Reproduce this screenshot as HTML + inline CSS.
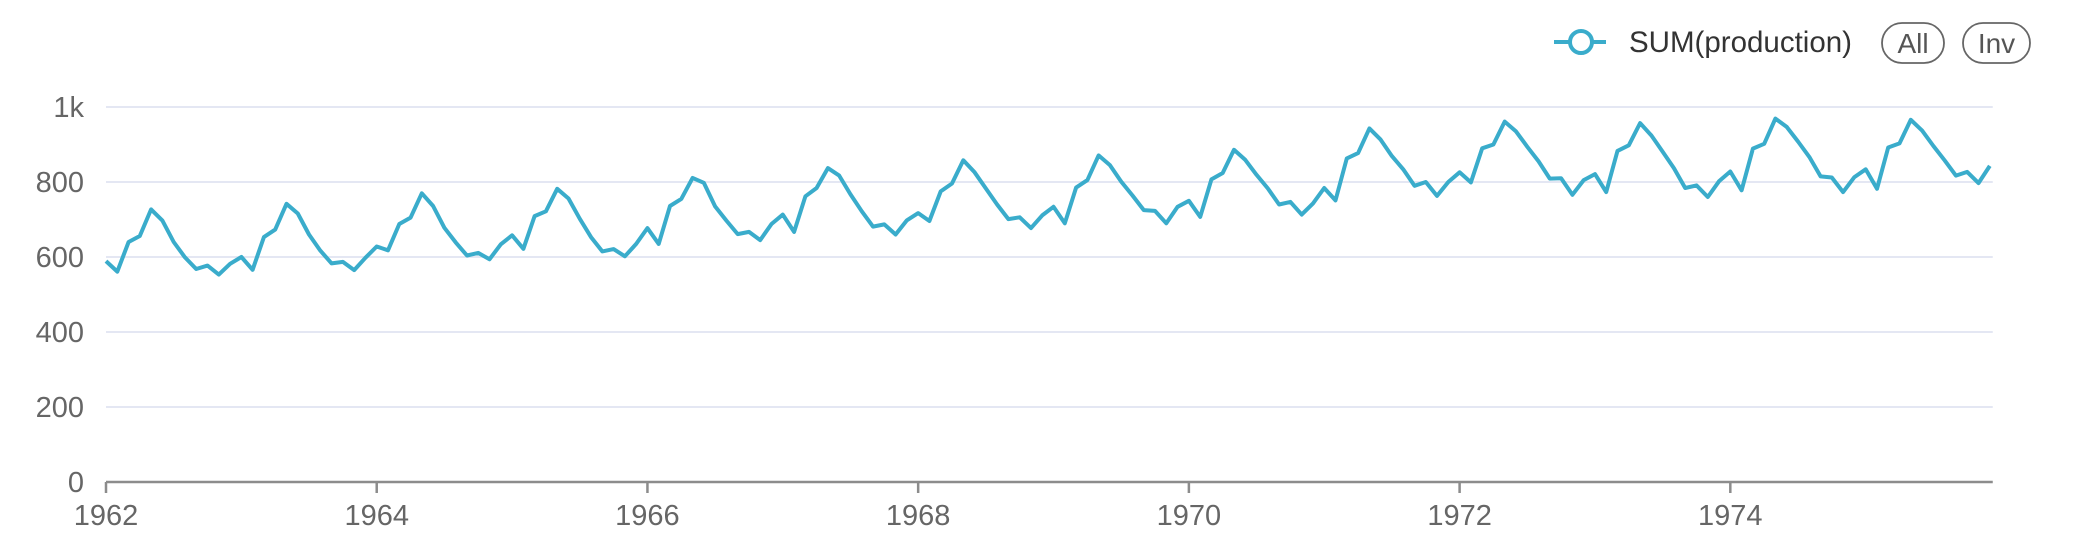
<!DOCTYPE html>
<html><head><meta charset="utf-8"><style>
html,body{margin:0;padding:0;background:#fff;}
svg{display:block;font-family:"Liberation Sans",Arial,sans-serif;}
</style></head><body>
<svg id="chart" width="2090" height="556" viewBox="0 0 2090 556">
  <g id="grid"></g>
  <g id="yticks"></g>
  <g id="xaxis"></g>
  <g id="series"></g>
  <g transform="translate(-8,0)">
    <g>
      <line x1="1562" y1="42" x2="1614" y2="42" stroke="#3aaccb" stroke-width="4"/>
      <circle cx="1589" cy="42" r="11" fill="#fff" stroke="#3aaccb" stroke-width="4"/>
      <text x="1637" y="52" font-size="29.5" fill="#333">SUM(production)</text>
    </g>
    <g>
      <rect x="1890" y="23" width="62" height="40" rx="20" fill="#fff" stroke="#666" stroke-width="1.8"/>
      <text x="1921" y="53" font-size="28" fill="#555" text-anchor="middle">All</text>
    </g>
    <g>
      <rect x="1971" y="23" width="67" height="40" rx="20" fill="#fff" stroke="#666" stroke-width="1.8"/>
      <text x="2004.5" y="53" font-size="28" fill="#555" text-anchor="middle">Inv</text>
    </g>
  </g>
</svg>
<script>
const years = [1962,1963,1964,1965,1966,1967,1968,1969,1970,1971,1972,1973,1974,1975];
const production = [
589,561,640,656,727,697,640,599,568,577,553,582,
600,566,653,673,742,716,660,617,583,587,565,598,
628,618,688,705,770,736,678,639,604,611,594,634,
658,622,709,722,782,756,702,653,615,621,602,635,
677,635,736,755,811,798,735,697,661,667,645,688,
713,667,762,784,837,817,767,722,681,687,660,698,
717,696,775,796,858,826,783,740,701,706,677,711,
734,690,785,805,871,845,801,764,725,723,690,734,
750,707,807,824,886,859,819,783,740,747,713,743,
784,751,863,877,943,913,869,834,790,800,763,800,
826,799,890,900,961,935,894,855,809,810,766,805,
821,773,883,898,957,924,881,837,784,791,760,802,
828,778,889,902,969,947,908,867,815,812,773,813,
834,782,892,903,966,937,896,858,817,827,797,843];
const yTicks = [0,200,400,600,800,1000];
const yTickLabels = ["0","200","400","600","800","1k"];
const xTickYears = [1962,1964,1966,1968,1970,1972,1974];

const NS="http://www.w3.org/2000/svg";
const X0=106, MONTH=11.28, Y0=482, YK=(482-107)/1000;
const xScale = m => X0 + m*MONTH;
const yScale = v => Y0 - v*YK;
function mk(tag, attrs, parent){const e=document.createElementNS(NS,tag);for(const k in attrs)e.setAttribute(k,attrs[k]);parent.appendChild(e);return e;}

const grid=document.getElementById('grid'), yt=document.getElementById('yticks'), xa=document.getElementById('xaxis'), se=document.getElementById('series');
const xEnd = xScale(production.length-1);
yTicks.forEach((v,i)=>{
  if(v>0){
    const l=mk('line',{x1:X0,x2:xEnd+3,y1:yScale(v),y2:yScale(v),stroke:'#e4e7f3','stroke-width':2},grid);
    
    
  }
  const t=mk('text',{x:84,y:yScale(v)+10,'font-size':29,fill:'#666','text-anchor':'end'},yt);
  t.textContent=yTickLabels[i];
  
  
});
const ax=mk('line',{x1:X0,x2:xEnd+3,y1:Y0,y2:Y0,stroke:'#8c8c8c','stroke-width':2.5},xa);


xTickYears.forEach(yr=>{
  const x=xScale((yr-years[0])*12);
  const tk=mk('line',{x1:x,x2:x,y1:Y0,y2:Y0+11,stroke:'#8c8c8c','stroke-width':2.5},xa);
  
  
  const t=mk('text',{x:x,y:525,'font-size':29,fill:'#666','text-anchor':'middle'},xa);
  t.textContent=String(yr);
  
  
});
const pts=production.map((v,i)=>xScale(i).toFixed(1)+','+yScale(v).toFixed(1)).join(' ');
const pl=mk('polyline',{points:pts,fill:'none',stroke:'#3aaccb','stroke-width':4,'stroke-linejoin':'round'},se);


</script>
</body></html>
